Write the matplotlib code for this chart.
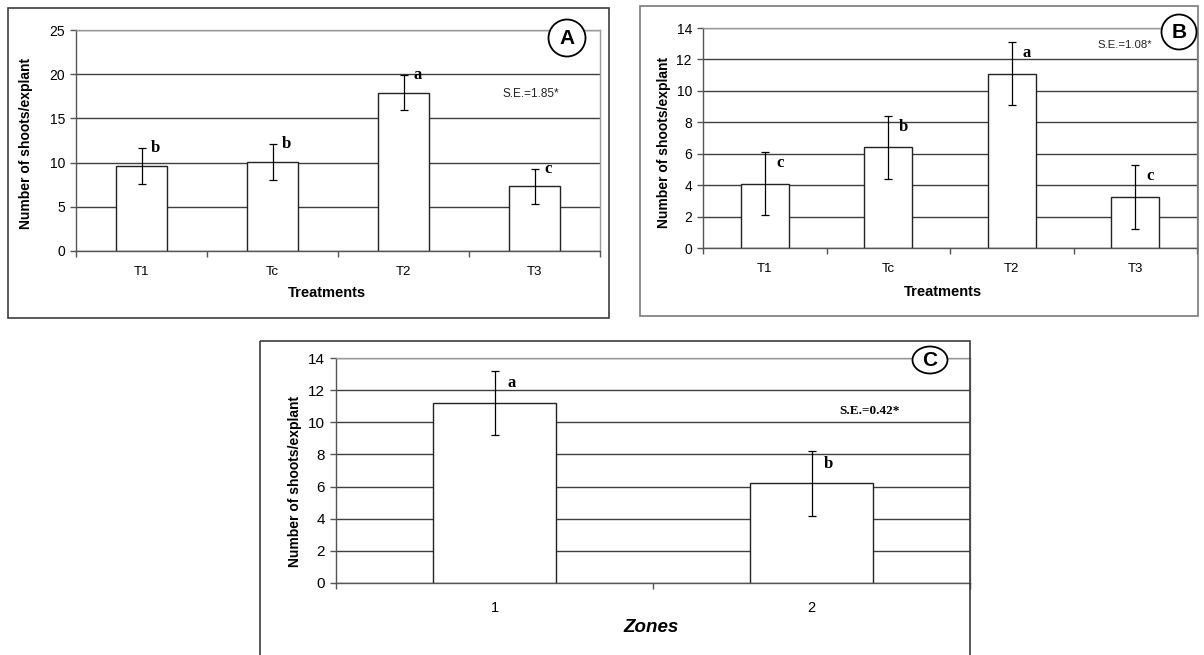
import numpy as np
import matplotlib
matplotlib.use("Agg")
import matplotlib.pyplot as plt
from matplotlib.patches import Rectangle, Ellipse

# ---- data -------------------------------------------------------------
treatments = ["T1", "Tc", "T2", "T3"]

shoots_a = [9.6, 10.1, 17.9, 7.3]
err_a = [2.0, 2.05, 2.0, 2.0]
letters_a = ["b", "b", "a", "c"]

shoots_b = [4.1, 6.4, 11.1, 3.25]
err_b = [2.0, 2.0, 2.0, 2.05]
letters_b = ["c", "b", "a", "c"]

zones = ["1", "2"]
shoots_c = [11.2, 6.2]
err_c = [2.0, 2.0]
letters_c = ["a", "b"]

se_a = "S.E.=1.85*"
se_b = "S.E.=1.08*"
se_c = "S.E.=0.42*"

# ---- figure -----------------------------------------------------------
plt.rcParams["font.family"] = ["Liberation Sans", "DejaVu Sans"]
W, H = 1204, 655
fig = plt.figure(figsize=(W / 100, H / 100), dpi=100)
fig.patch.set_facecolor("white")


def px_axes(left, top, right, bottom):
    return fig.add_axes([left / W, 1 - bottom / H, (right - left) / W, (bottom - top) / H])


def draw_panel(ax, cats, vals, errs, letters, ymax, ystep, xlabel,
               xlabel_xy, ylabel_xy, letter_dx, letter_dy, tick_fs=9.5,
               xlabel_kw=None, xtick_pad=11):
    n = len(cats)
    x = np.arange(n)
    ax.set_xlim(-0.5, n - 0.5)
    ax.set_ylim(0, ymax)
    ax.set_yticks(np.arange(0, ymax + 0.01, ystep))
    ax.set_axisbelow(True)
    ax.grid(axis="y", color="#3e3e3e", lw=1.0)
    ax.bar(x, vals, width=0.39, color="white", edgecolor="#222222", lw=1.0, zorder=2)
    ax.errorbar(x, vals, yerr=errs, fmt="none", ecolor="black", elinewidth=0.9,
                capsize=2.6, capthick=0.9, zorder=3)
    for xi, v, e, lt in zip(x, vals, errs, letters):
        ax.annotate(lt, (xi, v + e), xytext=(letter_dx, letter_dy),
                    textcoords="offset points", ha="center", va="center",
                    fontsize=12, fontweight="bold", family=["Liberation Serif"],
                    zorder=4)

    # category boundaries carry the tick marks, centres carry the labels
    ax.set_xticks(np.arange(-0.5, n, 1.0))
    ax.set_xticklabels([])
    ax.set_xticks(x, minor=True)
    ax.set_xticklabels(cats, minor=True, fontsize=tick_fs)
    ax.tick_params(axis="x", which="major", length=4, width=1, color="#555555",
                   direction="out")
    ax.tick_params(axis="x", which="minor", length=0, pad=xtick_pad)
    ax.tick_params(axis="y", length=4, width=1, color="#555555", pad=4,
                   labelsize=tick_fs + 0.5)

    for s in ("top", "right"):
        ax.spines[s].set_color("#9a9a9a")
    for s in ("left", "bottom"):
        ax.spines[s].set_color("#555555")
    for s in ax.spines.values():
        s.set_linewidth(1.0)

    ax.set_ylabel("Number of shoots/explant", fontsize=10, fontweight="bold")
    ax.yaxis.set_label_coords(*ylabel_xy)
    ax.yaxis.label.set_va("center")
    kw = dict(fontsize=10.5, fontweight="bold")
    if xlabel_kw:
        kw.update(xlabel_kw)
    ax.set_xlabel(xlabel, **kw)
    ax.xaxis.set_label_coords(*xlabel_xy)
    ax.xaxis.label.set_va("center")


# panel A
ax_a = px_axes(76, 30, 600, 251)
draw_panel(ax_a, treatments, shoots_a, err_a, letters_a, 25, 5, "Treatments",
           (0.479, -0.19), (-0.096, 0.486), 10, 0)
ax_a.text(0.868, 0.71, se_a, transform=ax_a.transAxes, ha="center", va="center",
          fontsize=8.5, color="#222222")

# panel B
ax_b = px_axes(703, 28, 1197, 248)
draw_panel(ax_b, treatments, shoots_b, err_b, letters_b, 14, 2, "Treatments",
           (0.486, -0.2), (-0.079, 0.482), 11, -8)
ax_b.text(0.854, 0.923, se_b, transform=ax_b.transAxes, ha="center", va="center",
          fontsize=8.2, color="#222222")

# panel C
ax_c = px_axes(336, 358, 970, 583)
draw_panel(ax_c, zones, shoots_c, err_c, letters_c, 14, 2, "Zones",
           (0.497, -0.2), (-0.065, 0.45), 12, -9, tick_fs=10.5,
           xlabel_kw=dict(fontsize=13.5, fontstyle="italic"), xtick_pad=13)
ax_c.text(0.842, 0.764, se_c, transform=ax_c.transAxes, ha="center", va="center",
          fontsize=9.5, fontweight="bold", family=["Liberation Serif"])

# ---- frames and panel badges -------------------------------------------
ov = fig.add_axes([0, 0, 1, 1], zorder=10)
ov.set_xlim(0, W)
ov.set_ylim(H, 0)
ov.axis("off")
ov.patch.set_alpha(0)

ov.add_patch(Rectangle((8, 8), 601, 310, fill=False, ec="#3c3c3c", lw=1.2))
ov.add_patch(Rectangle((640, 6), 558, 310, fill=False, ec="#7a7a7a", lw=1.2))
ov.add_patch(Rectangle((260, 341), 710, 330, fill=False, ec="#3c3c3c", lw=1.2))

for (cx, cy, w, h, lab) in [(567, 38, 37, 37, "A"), (1179, 32, 35, 35, "B"),
                            (930, 360, 35, 27, "C")]:
    ov.add_patch(Ellipse((cx, cy), w, h, fc="white", ec="black", lw=1.3))
    ov.text(cx, cy + 1, lab, ha="center", va="center", fontsize=15, fontweight="bold")

fig.savefig("out.png", dpi=100)
